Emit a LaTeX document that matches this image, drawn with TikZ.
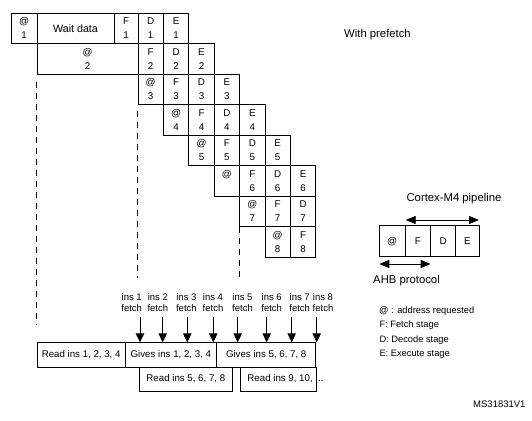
\documentclass[tikz,border=0pt]{standalone}
\usepackage{fontspec}
\setmainfont{Liberation Sans}
\usetikzlibrary{arrows.meta,calc}
\newcommand{\pcell}[5]{\node[cellbox, minimum width=#3pt] (#1) at ({#2+#3/2},{#4+15.25}) {#5};}
\begin{document}
\begin{tikzpicture}[x=1pt,y=-1pt,
  cellbox/.style={draw, line width=0.8pt, minimum height=30.5pt, inner sep=0pt, align=center, font=\fontsize{9.8}{14}\selectfont},
  rbox/.style={draw, line width=0.8pt, inner sep=0pt, font=\fontsize{9.7}{11}\selectfont},
  lbl/.style={inner sep=0pt, align=center, font=\fontsize{9.5}{11}\selectfont},
  big/.style={inner sep=0pt, font=\fontsize{11.3}{13}\selectfont},
  leg/.style={inner sep=0pt, anchor=west, font=\fontsize{9.3}{11}\selectfont},
  fetcharrow/.style={line width=0.9pt, -{Triangle[width=8.5pt,length=9pt]}},
  dblarrow/.style={line width=0.9pt, {Triangle[width=8pt,length=10pt]}-{Triangle[width=8pt,length=10pt]}},
  dashline/.style={line width=0.8pt, dash pattern=on 6pt off 5pt}]
\useasboundingbox (0,0) rectangle (532,420);
% row 1
\pcell{a1}{11}{26}{13}{@\\1}
\node[cellbox, minimum width=77pt, font=\fontsize{10.7}{13}\selectfont] (wait) at (75.5,28.25) {Wait data};
\pcell{f1}{114}{24}{13}{F\\1}
\pcell{d1}{138}{25.4}{13}{D\\1}
\pcell{e1}{163.4}{25.4}{13}{E\\1}
% row 2
\pcell{a2}{37}{101}{43.5}{@\\2}
\pcell{f2}{138}{25.4}{43.5}{F\\2}
\pcell{d2}{163.4}{25.4}{43.5}{D\\2}
\pcell{e2}{188.8}{25.4}{43.5}{E\\2}
% row 3
\pcell{a3}{138}{25.4}{74}{@\\3}
\pcell{f3}{163.4}{25.4}{74}{F\\3}
\pcell{d3}{188.8}{25.4}{74}{D\\3}
\pcell{e3}{214.2}{25.4}{74}{E\\3}
% row 4
\pcell{a4}{163.4}{25.4}{104.5}{@\\4}
\pcell{f4}{188.8}{25.4}{104.5}{F\\4}
\pcell{d4}{214.2}{25.4}{104.5}{D\\4}
\pcell{e4}{239.6}{25.4}{104.5}{E\\4}
% row 5
\pcell{a5}{188.8}{25.4}{135}{@\\5}
\pcell{f5}{214.2}{25.4}{135}{F\\5}
\pcell{d5}{239.6}{25.4}{135}{D\\5}
\pcell{e5}{265}{25.4}{135}{E\\5}
% row 6
\pcell{a6}{214.2}{25.4}{165.5}{@\\\phantom{6}}
\pcell{f6}{239.6}{25.4}{165.5}{F\\6}
\pcell{d6}{265}{25.4}{165.5}{D\\6}
\pcell{e6}{290.4}{25.4}{165.5}{E\\6}
% row 7
\pcell{a7}{239.6}{25.4}{196}{@\\7}
\pcell{f7}{265}{25.4}{196}{F\\7}
\pcell{d7}{290.4}{25.4}{196}{D\\7}
% row 8
\pcell{a8}{265}{25.4}{226.5}{@\\8}
\pcell{f8}{290.4}{25.4}{226.5}{F\\8}
% dashed guides
\coordinate (g1a) at (36,82);   \coordinate (g1b) at (36,325);
\coordinate (g2a) at (137.5,111); \coordinate (g2b) at (137.5,278);
\coordinate (g3a) at (239.6,226.5); \coordinate (g3b) at (239.6,279);
\draw[dashline] (g1a) -- (g1b);
\draw[dashline] (g2a) -- (g2b);
\draw[dashline] (g3a) -- (g3b);
% title
\node[big] (title) at (377.5,35) {With prefetch};
% bus boxes
\node[rbox, minimum width=87.7pt, minimum height=24.3pt] (rA1) at (81.15,354.85) {Read ins 1, 2, 3, 4};
\node[rbox, minimum width=91.7pt, minimum height=24.3pt] (rA2) at (170.85,354.85) {Gives ins 1, 2, 3, 4};
\node[rbox, minimum width=99pt, minimum height=24.3pt] (rA3) at (266.2,354.85) {Gives ins 5, 6, 7, 8};
\node[rbox, minimum width=93.7pt, minimum height=24pt] (rB1) at (185.85,379) {Read ins 5, 6, 7, 8};
\node[rbox, minimum width=75.5pt, minimum height=24pt] (rB2) at (278.25,379) {};
\node[lbl, font=\fontsize{9.7}{11}\selectfont] (rB2t) at (285.5,379) {Read ins 9, 10, ...};
% fetch labels and arrows
\foreach \i/\tx/\ax in {1/131.7/140,2/157.8/162.7,3/186.4/187.3,4/213/213.3,5/242.5/237.7,6/271.7/266.7,7/299.7/291.7,8/323/316.7}{
  \node[lbl] (l\i) at (\tx,302.8) {ins \i\\fetch};
  \coordinate (fa\i) at (\ax,316.7);
  \draw[fetcharrow] (fa\i) -- (fa\i |- rA1.north);
}
% pipeline legend
\node[big] (cortex) at (454,199) {Cortex-M4 pipeline};
\node[cellbox, minimum width=26pt, minimum height=31pt] (p1) at (392,241.2) {@};
\node[cellbox, minimum width=25.7pt, minimum height=31pt] (p2) at (417.85,241.2) {F};
\node[cellbox, minimum width=25pt, minimum height=31pt] (p3) at (443.2,241.2) {D};
\node[cellbox, minimum width=23.3pt, minimum height=31pt] (p4) at (467.35,241.2) {E};
\coordinate (ct1) at (405.7,220); \coordinate (ct2) at (479,220);
\draw[dblarrow] (ct1) -- (ct2);
\coordinate (ah1) at (379.3,264); \coordinate (ah2) at (430.7,264);
\draw[dblarrow] (ah1) -- (ah2);
\node[big] (ahb) at (406.5,280.7) {AHB protocol};
\node[leg] (lg1) at (379,311) {@ : address requested};
\node[leg] (lg2) at (379.3,325.3) {F: Fetch stage};
\node[leg] (lg3) at (379.3,340) {D: Decode stage};
\node[leg] (lg4) at (379.3,354) {E: Execute stage};
\node[inner sep=0pt, anchor=east, font=\fontsize{9.5}{11}\selectfont] (ms) at (525.7,404) {MS31831V1};
\end{tikzpicture}
\end{document}
